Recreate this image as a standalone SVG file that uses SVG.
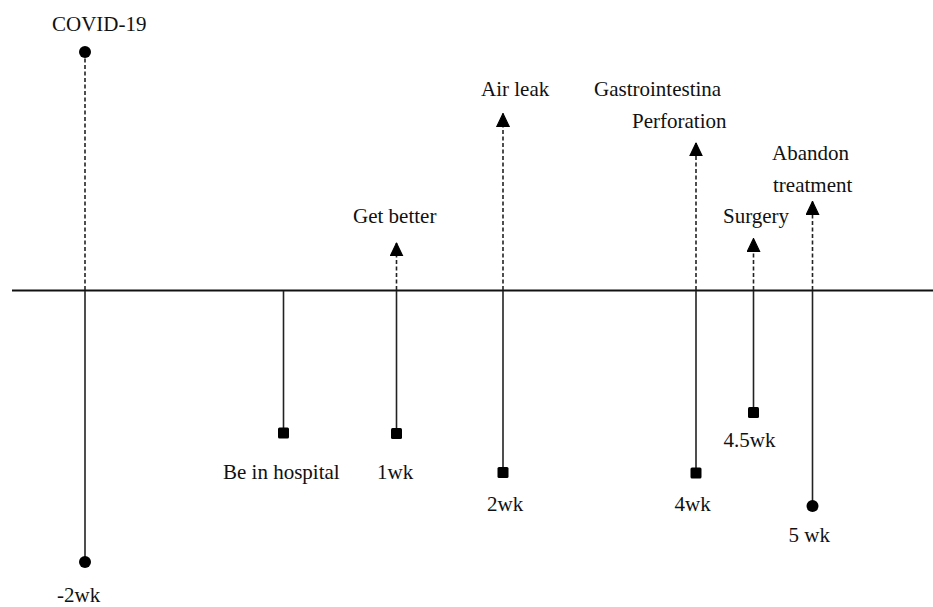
<svg xmlns="http://www.w3.org/2000/svg" width="933" height="607" viewBox="0 0 933 607">
<defs>
<style>
.lbl{font-family:"Liberation Serif","Times New Roman",serif;font-size:21px;fill:#111;}
.solid{stroke:#222;stroke-width:1.6;fill:none;}
.dash{stroke:#222;stroke-width:1.6;fill:none;stroke-dasharray:4 2.5;}
.axis{stroke:#111;stroke-width:1.8;}
.mk{fill:#000;}
</style>
<marker id="arr" markerUnits="userSpaceOnUse" markerWidth="14" markerHeight="14" viewBox="0 0 12 12" refX="11.5" refY="6" orient="auto">
<path d="M0,0.5 L11.5,6 L0,11.5 Z" fill="#000" stroke="#000" stroke-width="1" stroke-linejoin="round"/>
</marker>
</defs>
<rect width="933" height="607" fill="#fff"/>
<g id="connectors">
<line class="axis" x1="12" y1="290.5" x2="933" y2="290.5"/>
<line class="dash" x1="85" y1="52" x2="85" y2="290"/>
<line class="solid" x1="85" y1="291" x2="85" y2="562"/>
<line class="solid" x1="283.5" y1="291" x2="283.5" y2="433"/>
<line class="solid" x1="396.5" y1="291" x2="396.5" y2="433"/>
<line class="dash" x1="396.5" y1="290" x2="396.5" y2="243" marker-end="url(#arr)"/>
<line class="solid" x1="503" y1="291" x2="503" y2="472"/>
<line class="dash" x1="503" y1="290" x2="503" y2="113.5" marker-end="url(#arr)"/>
<line class="solid" x1="696" y1="291" x2="696" y2="473"/>
<line class="dash" x1="696" y1="290" x2="696" y2="143" marker-end="url(#arr)"/>
<line class="solid" x1="753.5" y1="291" x2="753.5" y2="412"/>
<line class="dash" x1="753.5" y1="290" x2="753.5" y2="238.5" marker-end="url(#arr)"/>
<line class="solid" x1="812.5" y1="291" x2="812.5" y2="506"/>
<line class="dash" x1="812.5" y1="290" x2="812.5" y2="201.5" marker-end="url(#arr)"/>
</g>
<g id="covid">
<circle class="mk" cx="85" cy="52" r="6"/>
<text class="lbl" x="52" y="31">COVID-19</text>
</g>
<g id="minus2wk">
<circle class="mk" cx="85" cy="562" r="6"/>
<text class="lbl" x="57" y="602">-2wk</text>
</g>
<g id="hospital">
<rect class="mk" x="278" y="427.5" width="11" height="11" rx="1.5"/>
<text class="lbl" x="223" y="479">Be in hospital</text>
</g>
<g id="wk1">
<rect class="mk" x="391" y="428" width="11" height="11" rx="1.5"/>
<text class="lbl" x="377" y="479">1wk</text>
</g>
<g id="getbetter">
<text class="lbl" x="353" y="223">Get better</text>
</g>
<g id="wk2">
<rect class="mk" x="497.5" y="467" width="11" height="11" rx="1.5"/>
<text class="lbl" x="487" y="511">2wk</text>
</g>
<g id="airleak">
<text class="lbl" x="481" y="96">Air leak</text>
</g>
<g id="wk4">
<rect class="mk" x="690.5" y="467.5" width="11" height="11" rx="1.5"/>
<text class="lbl" x="674.5" y="511">4wk</text>
</g>
<g id="perforation">
<text class="lbl" x="594" y="96">Gastrointestina</text>
<text class="lbl" x="632" y="128">Perforation</text>
</g>
<g id="wk45">
<rect class="mk" x="748" y="407" width="11" height="11" rx="1.5"/>
<text class="lbl" x="723.5" y="447">4.5wk</text>
</g>
<g id="surgery">
<text class="lbl" x="723" y="223">Surgery</text>
</g>
<g id="wk5">
<circle class="mk" cx="812.5" cy="506" r="6"/>
<text class="lbl" x="788.5" y="542">5 wk</text>
</g>
<g id="abandon">
<text class="lbl" x="772" y="160">Abandon</text>
<text class="lbl" x="773" y="192">treatment</text>
</g>
</svg>
